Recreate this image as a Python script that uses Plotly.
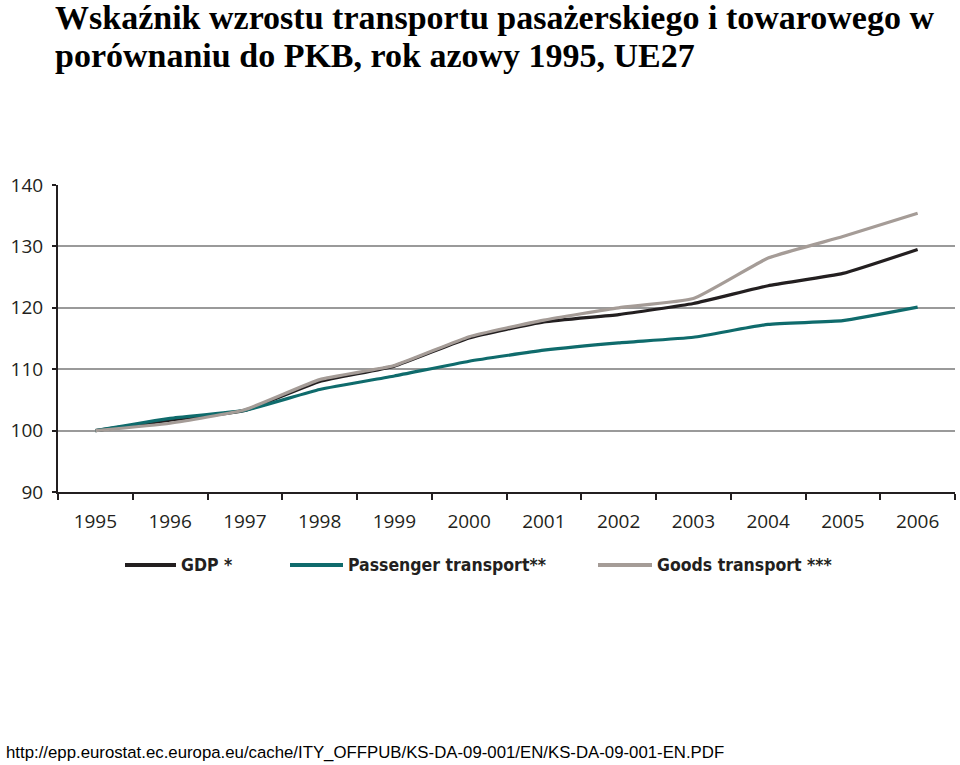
import plotly.graph_objects as go

years = ["1995", "1996", "1997", "1998", "1999", "2000", "2001", "2002", "2003", "2004", "2005", "2006"]
gdp = [100, 101.7, 103.3, 108.0, 110.5, 115.1, 117.7, 118.9, 120.7, 123.6, 125.6, 129.5]
passenger = [100, 102.0, 103.3, 106.7, 108.9, 111.3, 113.1, 114.3, 115.2, 117.3, 117.9, 120.1]
goods = [100, 101.2, 103.4, 108.3, 110.6, 115.3, 118.0, 120.0, 121.5, 128.1, 131.6, 135.4]

series_names = ["GDP *", "Passenger transport**", "Goods transport ***"]
colors = ["#231f20", "#0f6b6c", "#a59c97"]

title_lines = ["Wskaźnik wzrostu transportu pasażerskiego i towarowego w",
               "porównaniu do PKB, rok azowy 1995, UE27"]
source = "http://epp.eurostat.ec.europa.eu/cache/ITY_OFFPUB/KS-DA-09-001/EN/KS-DA-09-001-EN.PDF"

# plot area in pixels
L, R, T, B = 58, 955, 185, 492
W, H = 960, 765
pw, ph = R - L, B - T


def px_x(x):
    return (x - L) / pw


def px_y(y):
    return (B - y) / ph


fig = go.Figure()
for name, vals, col in zip(series_names, [gdp, passenger, goods], colors):
    fig.add_trace(go.Scatter(x=years, y=vals, mode="lines", name=name,
                             line=dict(color=col, width=3.2, shape="spline", smoothing=0.4),
                             showlegend=False))

fig.update_layout(
    width=W, height=H,
    margin=dict(l=L, r=W - R, t=T, b=H - B, autoexpand=False),
    paper_bgcolor="white", plot_bgcolor="white",
    xaxis=dict(type="category", range=[-0.5, 11.5], tickson="boundaries",
               ticks="outside", ticklen=6, tickwidth=2, tickcolor="#231f20",
               showline=True, linecolor="#231f20", linewidth=2,
               showgrid=False, ticklabelstandoff=11,
               tickfont=dict(family="Open Sans, sans-serif", size=19, color="#231f20")),
    yaxis=dict(range=[90, 140], dtick=10, showline=True, linecolor="#231f20", linewidth=2,
               showgrid=True, gridcolor="#9a9a9a", gridwidth=1.5, zeroline=False,
               ticks="outside", ticklen=4, tickwidth=2, tickcolor="#231f20",
               ticklabelstandoff=5,
               tickfont=dict(family="Open Sans, sans-serif", size=19, color="#231f20")),
)

# Title (two lines)
title_font = dict(family="Liberation Serif, Times New Roman, serif", size=34, color="#000000")
for line, yc in zip(title_lines, [17, 55]):
    fig.add_annotation(xref="paper", yref="paper", x=px_x(53), y=px_y(yc),
                       xanchor="left", yanchor="middle", align="left",
                       text="<b>" + line + "</b>", showarrow=False, font=title_font)

# Legend (manual, to match the long sample lines)
legend_font = dict(family="DejaVu Sans Condensed, DejaVu Sans, sans-serif", size=17.5,
                   color="#231f20", weight="bold")
legend_pos = [(125, 176), (290, 343), (598, 652)]
ly = 565
for name, col, (x0, x1) in zip(series_names, colors, legend_pos):
    fig.add_shape(type="line", xref="paper", yref="paper",
                  x0=px_x(x0), x1=px_x(x1), y0=px_y(ly), y1=px_y(ly),
                  line=dict(color=col, width=4))
    fig.add_annotation(xref="paper", yref="paper", x=px_x(x1 + 3), y=px_y(ly),
                       xanchor="left", yanchor="middle", text=name, showarrow=False,
                       font=legend_font)

# Source footer
fig.add_annotation(xref="paper", yref="paper", x=px_x(4), y=px_y(752),
                   xanchor="left", yanchor="middle", text=source, showarrow=False,
                   font=dict(family="Liberation Sans, Arial, sans-serif", size=16.8, color="#000000"))

fig.write_html("out.html", config={"displayModeBar": False},
               post_script="document.body.style.margin='0px';")
